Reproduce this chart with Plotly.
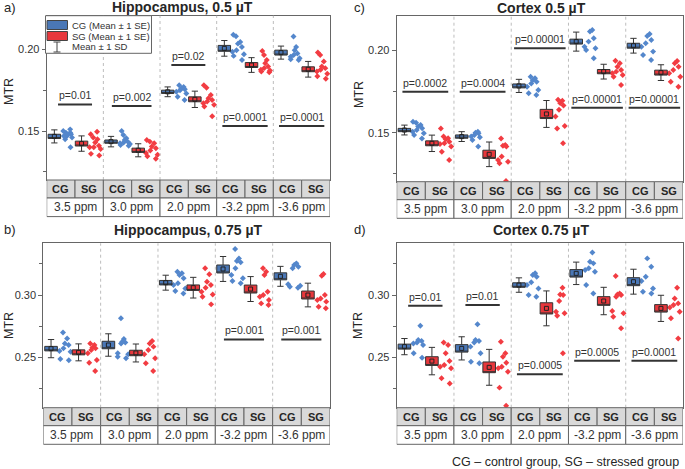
import plotly.graph_objects as go

# ---------------- data ----------------
ppm_labels = ["3.5 ppm", "3.0 ppm", "2.0 ppm", "-3.2 ppm", "-3.6 ppm"]
group_labels = ["CG", "SG"]

# Panel a) Hippocampus, 0.5 uT
a_cg_mean = [0.1467, 0.1435, 0.1740, 0.2006, 0.1980]
a_cg_se = [0.0013, 0.0010, 0.0010, 0.0018, 0.0015]
a_cg_sd = [0.0040, 0.0032, 0.0030, 0.0048, 0.0040]
a_sg_mean = [0.1423, 0.1382, 0.1694, 0.1904, 0.1878]
a_sg_se = [0.0015, 0.0013, 0.0015, 0.0015, 0.0015]
a_sg_sd = [0.0047, 0.0040, 0.0050, 0.0045, 0.0048]
a_cg_pts = [
    [0.151, 0.150, 0.149, 0.149, 0.148, 0.148, 0.147, 0.147, 0.146, 0.145, 0.140],
    [0.150, 0.1475, 0.1455, 0.1445, 0.1435, 0.143, 0.1425, 0.142, 0.1415, 0.141],
    [0.178, 0.177, 0.176, 0.1755, 0.175, 0.174, 0.173, 0.171, 0.169],
    [0.209, 0.208, 0.2045, 0.2035, 0.2015, 0.1995, 0.1985, 0.197, 0.196, 0.1935],
    [0.2078, 0.2015, 0.1995, 0.1975, 0.1965, 0.1955, 0.1945, 0.194, 0.1935],
]
a_sg_pts = [
    [0.1495, 0.148, 0.146, 0.145, 0.143, 0.141, 0.140, 0.140, 0.139, 0.136, 0.135],
    [0.1445, 0.1435, 0.1425, 0.1405, 0.1395, 0.138, 0.1365, 0.1355, 0.1345, 0.133],
    [0.178, 0.1765, 0.172, 0.170, 0.169, 0.168, 0.167, 0.166, 0.165, 0.159],
    [0.199, 0.1965, 0.1935, 0.1915, 0.1895, 0.1885, 0.1875, 0.187, 0.1865, 0.186],
    [0.198, 0.1965, 0.1925, 0.1895, 0.1885, 0.1875, 0.1865, 0.185, 0.1835, 0.182],
]
a_p_text = ["p=0.01", "p=0.002", "p=0.02", "p=0.0001", "p=0.0001"]
a_p_y = [0.1663, 0.1653, 0.1904, 0.1530, 0.1530]

# Panel b) Hippocampus, 0.75 uT
b_cg_mean = [0.2570, 0.2599, 0.3099, 0.3209, 0.3150]
b_cg_se = [0.0018, 0.0030, 0.0018, 0.0032, 0.0028]
b_cg_sd = [0.0073, 0.0090, 0.0060, 0.0100, 0.0080]
b_sg_mean = [0.2540, 0.2535, 0.3059, 0.3048, 0.3000]
b_sg_se = [0.0020, 0.0022, 0.0022, 0.0032, 0.0032]
b_sg_sd = [0.0068, 0.0072, 0.0083, 0.0100, 0.0095]
b_cg_pts = [
    [0.270, 0.2652, 0.2612, 0.2599, 0.2572, 0.2551, 0.2545, 0.2487, 0.2476],
    [0.2813, 0.2647, 0.2626, 0.262, 0.2612, 0.2532, 0.2524, 0.2505, 0.2492],
    [0.3187, 0.3174, 0.316, 0.3134, 0.3094, 0.308, 0.3053, 0.3032, 0.3013],
    [0.3369, 0.3294, 0.3273, 0.3262, 0.3214, 0.316, 0.3134, 0.3112, 0.3094],
    [0.3254, 0.324, 0.3227, 0.3214, 0.3086, 0.3075, 0.3067, 0.3059],
]
b_sg_pts = [
    [0.2612, 0.2599, 0.2578, 0.2572, 0.2559, 0.2532, 0.2479, 0.2457, 0.239],
    [0.2631, 0.2612, 0.2586, 0.2559, 0.2524, 0.2492, 0.2452, 0.239],
    [0.3214, 0.3166, 0.3107, 0.308, 0.3059, 0.3027, 0.3005, 0.2987, 0.2925],
    [0.3214, 0.3187, 0.316, 0.3027, 0.300, 0.2987, 0.296, 0.2933, 0.292],
    [0.3168, 0.3155, 0.300, 0.2973, 0.296, 0.2947, 0.2906, 0.2893],
]
b_p_text = ["", "", "", "p=0.001", "p=0.001"]
b_p_y = [None, None, None, 0.2644, 0.2644]

# Panel c) Cortex 0.5 uT
c_cg_mean = [0.1516, 0.1476, 0.1785, 0.2055, 0.2030]
c_cg_se = [0.0010, 0.0010, 0.0012, 0.0015, 0.0015]
c_cg_sd = [0.0030, 0.0030, 0.0040, 0.0058, 0.0045]
c_sg_mean = [0.1435, 0.1368, 0.1614, 0.1872, 0.1866]
c_sg_se = [0.0015, 0.0025, 0.0028, 0.0013, 0.0015]
c_sg_sd = [0.0050, 0.0075, 0.0082, 0.0045, 0.0048]
c_cg_pts = [
    [0.1567, 0.156, 0.1547, 0.1537, 0.1527, 0.1516, 0.1506, 0.1496, 0.1486, 0.1465],
    [0.1506, 0.150, 0.1496, 0.1486, 0.1476, 0.1472, 0.1455, 0.1415],
    [0.1841, 0.1831, 0.182, 0.181, 0.180, 0.178, 0.176, 0.174, 0.173],
    [0.2126, 0.2116, 0.2075, 0.2055, 0.2024, 0.2014, 0.2004, 0.1953],
    [0.2102, 0.2089, 0.2065, 0.2045, 0.2024, 0.1994, 0.1974, 0.1943],
]
c_sg_pts = [
    [0.1526, 0.1476, 0.1466, 0.146, 0.1445, 0.1435, 0.1431, 0.1415, 0.1384, 0.1333],
    [0.1465, 0.1425, 0.142, 0.1415, 0.1354, 0.1333, 0.1323, 0.1313, 0.1205],
    [0.170, 0.1695, 0.168, 0.1665, 0.164, 0.1598, 0.154, 0.1525, 0.1435],
    [0.1939, 0.1923, 0.1902, 0.1882, 0.1872, 0.1862, 0.1852, 0.1841, 0.179],
    [0.1937, 0.1923, 0.1902, 0.1882, 0.1862, 0.1841, 0.1811, 0.178],
]
c_p_text = ["p=0.0002", "p=0.0004", "p=0.00001", "p=0.00001", "p=0.00001"]
c_p_y = [0.1750, 0.1750, 0.2014, 0.1652, 0.1652]

# Panel d) Cortex 0.75 uT
d_cg_mean = [0.2586, 0.2572, 0.3080, 0.3174, 0.3107]
d_cg_se = [0.0020, 0.0030, 0.0018, 0.0030, 0.0032]
d_cg_sd = [0.0065, 0.0093, 0.0058, 0.0090, 0.0100]
d_sg_mean = [0.2470, 0.2420, 0.2893, 0.2952, 0.2893]
d_sg_se = [0.0035, 0.0043, 0.0045, 0.0035, 0.0030]
d_sg_sd = [0.0110, 0.0144, 0.0140, 0.0110, 0.0105]
d_cg_pts = [
    [0.2754, 0.2639, 0.2631, 0.262, 0.2612, 0.2599, 0.2532, 0.2497],
    [0.2765, 0.2639, 0.2631, 0.262, 0.2586, 0.2532, 0.2465, 0.2452],
    [0.3174, 0.316, 0.3147, 0.3102, 0.308, 0.3053, 0.300, 0.2987],
    [0.3342, 0.3267, 0.3254, 0.3214, 0.320, 0.3187, 0.308, 0.3013],
    [0.3294, 0.3227, 0.3147, 0.3112, 0.3053, 0.3027, 0.3013],
]
d_sg_pts = [
    [0.262, 0.2599, 0.2532, 0.2471, 0.2439, 0.2425, 0.2412, 0.2332, 0.2291],
    [0.2626, 0.2532, 0.2505, 0.2457, 0.2425, 0.2412, 0.2385, 0.2257, 0.2112],
    [0.3059, 0.3005, 0.300, 0.2952, 0.2866, 0.2853, 0.2834, 0.2532],
    [0.3152, 0.3013, 0.3005, 0.300, 0.2987, 0.2872, 0.2853, 0.2826, 0.2733],
    [0.3059, 0.2973, 0.2933, 0.292, 0.2899, 0.2866, 0.2813, 0.2652],
]
d_p_text = ["p=0.01", "p=0.01", "p=0.0005", "p=0.0005", "p=0.0001"]
d_p_y = [0.2914, 0.2920, 0.2364, 0.2473, 0.2473]

# ---------------- styling / layout helpers ----------------
W, H = 685, 469
FONT = "Liberation Sans, Arial, sans-serif"
BLUE_BOX, RED_BOX = "#4a77b6", "#e8373c"
BLUE_DOT, RED_DOT = "#5487cc", "#f23c42"
EDGE = "#666666"
TXT = "#262626"


def px(x):
    return x / W


def py(y):
    return 1 - y / H


panels = [
    dict(n=1, letter="a)", title="Hippocampus, 0.5 µT", box=(46.7, 15.7, 330, 180),
         yr=(0.1200, 0.2206), major=[0.15, 0.20], minor=[0.125, 0.175],
         tx=183, ty=7, lx=2, mtr=(9, 92),
         cgm=a_cg_mean, cgse=a_cg_se, cgsd=a_cg_sd, sgm=a_sg_mean, sgse=a_sg_se, sgsd=a_sg_sd,
         cgp=a_cg_pts, sgp=a_sg_pts, pt=a_p_text, pv=a_p_y),
    dict(n=2, letter="b)", title="Hippocampus, 0.75 µT", box=(43.3, 243.3, 330, 407.7),
         yr=(0.2096, 0.3415), major=[0.25, 0.30], minor=[0.225, 0.275, 0.325],
         tx=188, ty=230, lx=2, mtr=(9, 326),
         cgm=b_cg_mean, cgse=b_cg_se, cgsd=b_cg_sd, sgm=b_sg_mean, sgse=b_sg_se, sgsd=b_sg_sd,
         cgp=b_cg_pts, sgp=b_sg_pts, pt=b_p_text, pv=b_p_y),
    dict(n=3, letter="c)", title="Cortex 0.5 µT", box=(396.7, 15.7, 683, 181.7),
         yr=(0.1201, 0.2213), major=[0.15, 0.20], minor=[0.125, 0.175],
         tx=541, ty=8, lx=352, mtr=(359, 95),
         cgm=c_cg_mean, cgse=c_cg_se, cgsd=c_cg_sd, sgm=c_sg_mean, sgse=c_sg_se, sgsd=c_sg_sd,
         cgp=c_cg_pts, sgp=c_sg_pts, pt=c_p_text, pv=c_p_y),
    dict(n=4, letter="d)", title="Cortex 0.75 µT", box=(396.7, 243.3, 683, 407.7),
         yr=(0.2096, 0.3415), major=[0.25, 0.30], minor=[0.225, 0.275, 0.325],
         tx=541, ty=230, lx=352, mtr=(358, 326),
         cgm=d_cg_mean, cgse=d_cg_se, cgsd=d_cg_sd, sgm=d_sg_mean, sgse=d_sg_se, sgsd=d_sg_sd,
         cgp=d_cg_pts, sgp=d_sg_pts, pt=d_p_text, pv=d_p_y),
]

fig = go.Figure()
shapes, annotations = [], []
layout_axes = {}

CG_BOX_OFF, SG_BOX_OFF = 0.27, 1.23
CG_DOT_OFF, SG_DOT_OFF = 0.76, 1.72
BOX_W, DOT_W = 0.44, 0.52


def ann(**kw):
    kw.setdefault("showarrow", False)
    kw.setdefault("xanchor", "center")
    kw.setdefault("yanchor", "middle")
    annotations.append(kw)


for p in panels:
    n = p["n"]
    xa, ya = f"x{n}", f"y{n}"
    L, T, R, B = p["box"]
    layout_axes[f"xaxis{n}"] = dict(
        domain=[px(L), px(R)], range=[0, 10], anchor=ya, showticklabels=False,
        ticks="", showgrid=False, zeroline=False, showline=True, mirror=True,
        linecolor=EDGE, linewidth=1, fixedrange=True)
    layout_axes[f"yaxis{n}"] = dict(
        domain=[py(B), py(T)], range=list(p["yr"]), anchor=xa,
        tickmode="array", tickvals=p["major"], ticktext=[f"{v:.2f}" for v in p["major"]],
        ticks="outside", ticklen=4, tickwidth=1, tickcolor=EDGE,
        minor=dict(tickmode="array", tickvals=p["minor"], ticks="outside", ticklen=3,
                   tickwidth=1, tickcolor=EDGE, showgrid=False),
        tickfont=dict(size=11, color="#333333", family=FONT),
        showgrid=False, zeroline=False, showline=True, mirror=True,
        linecolor=EDGE, linewidth=1, fixedrange=True)

    # scatter points (jittered by plotly)
    for g in range(5):
        for pts, off, col in ((p["cgp"][g], CG_DOT_OFF, BLUE_DOT), (p["sgp"][g], SG_DOT_OFF, RED_DOT)):
            fig.add_trace(go.Box(
                x=[2 * g + off] * len(pts), y=pts, xaxis=xa, yaxis=ya,
                boxpoints="all", jitter=1, pointpos=0, width=DOT_W,
                fillcolor="rgba(0,0,0,0)", line=dict(color="rgba(0,0,0,0)", width=0),
                marker=dict(symbol="diamond", size=4.6, color=col),
                showlegend=False, hoverinfo="y"))

    # summary boxes: mean ± SE box, mean ± SD whiskers
    for means, ses, sds, off, col in ((p["cgm"], p["cgse"], p["cgsd"], CG_BOX_OFF, BLUE_BOX),
                                       (p["sgm"], p["sgse"], p["sgsd"], SG_BOX_OFF, RED_BOX)):
        xs = [2 * g + off for g in range(5)]
        fig.add_trace(go.Box(
            x=xs, q1=[m - s for m, s in zip(means, ses)],
            median=[m - s for m, s in zip(means, ses)],
            q3=[m + s for m, s in zip(means, ses)],
            lowerfence=[m - s for m, s in zip(means, sds)],
            upperfence=[m + s for m, s in zip(means, sds)],
            xaxis=xa, yaxis=ya, width=BOX_W, whiskerwidth=0.5, boxpoints=False,
            fillcolor=col, line=dict(color="#333333", width=1), showlegend=False))
        fig.add_trace(go.Scatter(
            x=xs, y=means, xaxis=xa, yaxis=ya, mode="markers",
            marker=dict(symbol="square-open", size=4, color="#222222", line=dict(width=1)),
            showlegend=False, hoverinfo="skip"))

    # group separators (dotted)
    for g in range(1, 5):
        shapes.append(dict(type="line", xref=xa, yref="paper", x0=2 * g, x1=2 * g,
                           y0=py(B), y1=py(T), line=dict(color="#bdbdbd", width=1, dash="dot")))

    # category table below plot
    r1, r2 = B + 18, B + 36.6
    for i in range(10):
        shapes.append(dict(type="rect", xref=xa, yref="paper", x0=i, x1=i + 1,
                           y0=py(r1), y1=py(B), fillcolor="#d9d9d9",
                           line=dict(color=EDGE, width=1)))
        ann(xref=xa, yref="paper", x=i + 0.5, y=py((B + r1) / 2),
            text=f"<b>{group_labels[i % 2]}</b>",
            font=dict(size=11, color=TXT, family=FONT))
    for g in range(5):
        shapes.append(dict(type="rect", xref=xa, yref="paper", x0=2 * g, x1=2 * g + 2,
                           y0=py(r2), y1=py(r1), fillcolor="white",
                           line=dict(color=EDGE, width=1)))
        ann(xref=xa, yref="paper", x=2 * g + 1, y=py((r1 + r2) / 2), text=ppm_labels[g],
            font=dict(size=12, color="#333333", family=FONT))

    # p-value brackets
    for g in range(5):
        if not p["pt"][g]:
            continue
        hw = 0.1 * len(p["pt"][g])
        shapes.append(dict(type="line", xref=xa, yref=ya, x0=2 * g + 1 - hw, x1=2 * g + 1 + hw,
                           y0=p["pv"][g], y1=p["pv"][g], line=dict(color="#333333", width=2)))
        ann(xref=xa, yref=ya, x=2 * g + 1, y=p["pv"][g], text=p["pt"][g],
            yanchor="bottom", yshift=1, font=dict(size=10.5, color="#333333", family=FONT))

    # titles / labels
    ann(xref="paper", yref="paper", x=px(p["tx"]), y=py(p["ty"]),
        text=f"<b>{p['title']}</b>", font=dict(size=14, color=TXT, family=FONT))
    ann(xref="paper", yref="paper", x=px(p["lx"]), y=py(p["ty"]), xanchor="left",
        text=p["letter"], font=dict(size=13, color=TXT, family=FONT))
    ann(xref="paper", yref="paper", x=px(p["mtr"][0]), y=py(p["mtr"][1]),
        text="MTR", textangle=-90, font=dict(size=12.5, color=TXT, family=FONT))

# legend (panel a)
shapes.append(dict(type="rect", xref="paper", yref="paper", x0=px(45.5), x1=px(151.5),
                   y0=py(53.3), y1=py(15.7), fillcolor="white", line=dict(color=EDGE, width=1)))
shapes.append(dict(type="rect", xref="paper", yref="paper", x0=px(47), x1=px(67.5),
                   y0=py(29.5), y1=py(20.5), fillcolor=BLUE_BOX, line=dict(color="#444", width=1)))
shapes.append(dict(type="rect", xref="paper", yref="paper", x0=px(47), x1=px(67.5),
                   y0=py(40.5), y1=py(31.5), fillcolor=RED_BOX, line=dict(color="#444", width=1)))
shapes.append(dict(type="line", xref="paper", yref="paper", x0=px(57), x1=px(57),
                   y0=py(52), y1=py(42), line=dict(color="#444", width=1)))
for yy in (42, 52):
    shapes.append(dict(type="line", xref="paper", yref="paper", x0=px(53.5), x1=px(60.5),
                       y0=py(yy), y1=py(yy), line=dict(color="#444", width=1)))
for txt, yy in (("CG (Mean ± 1 SE)", 25), ("SG (Mean ± 1 SE)", 36), ("Mean ± 1 SD", 47)):
    ann(xref="paper", yref="paper", x=px(70), y=py(yy), xanchor="left",
        text=txt, font=dict(size=9.5, color="#333", family=FONT))

# footnote
ann(xref="paper", yref="paper", x=px(681), y=py(462), xanchor="right",
    text="CG – control group, SG – stressed group",
    font=dict(size=12.5, color=TXT, family=FONT))

fig.update_layout(
    width=W, height=H, margin=dict(l=0, r=0, t=0, b=0),
    paper_bgcolor="white", plot_bgcolor="white", boxmode="overlay",
    font=dict(family=FONT), shapes=shapes, annotations=annotations,
    **layout_axes)

fig.write_html("out.html", config={"displayModeBar": False},
               post_script="document.body.style.margin='0px';")
